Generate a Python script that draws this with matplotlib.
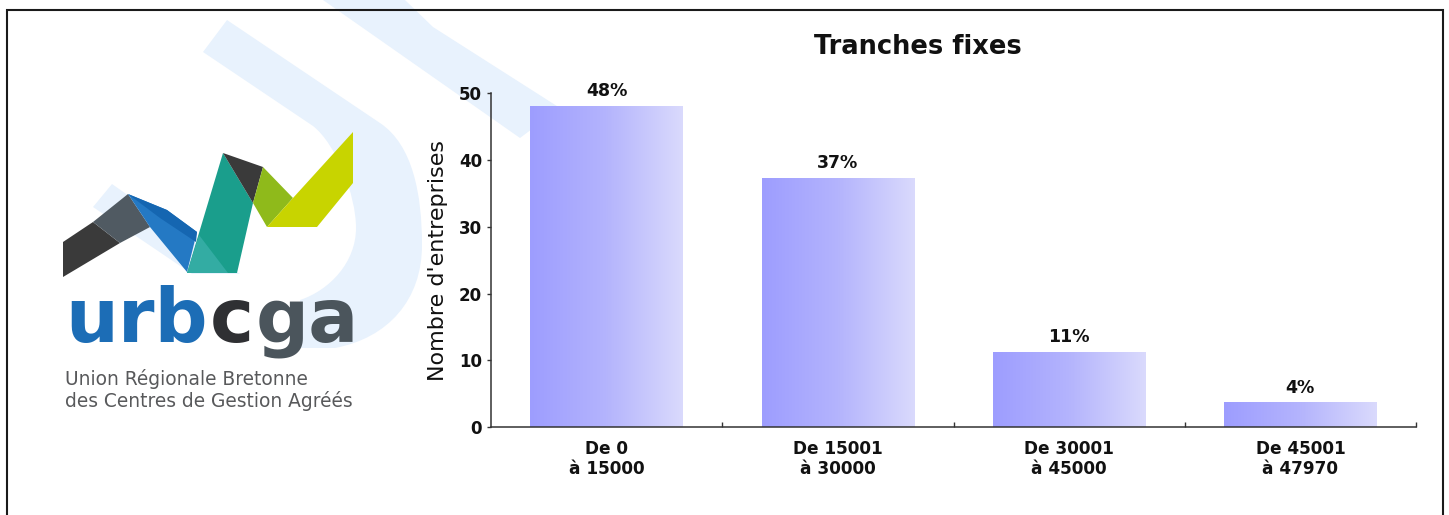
import numpy as np
import matplotlib
matplotlib.use("Agg")
import matplotlib.pyplot as plt
from matplotlib.patches import Polygon, PathPatch
from matplotlib.path import Path
from matplotlib.colors import LinearSegmentedColormap

# ---------------- data ----------------
categories = ["De 0\nà 15000", "De 15001\nà 30000", "De 30001\nà 45000", "De 45001\nà 47970"]
values = [48.0, 37.2, 11.2, 3.6]
pct_labels = ["48%", "37%", "11%", "4%"]
yticks = [0, 10, 20, 30, 40, 50]
title = "Tranches fixes"
ylabel = "Nombre d'entreprises"
logo_word = ["urb", "c", "ga"]
logo_lines = ["Union Régionale Bretonne", "des Centres de Gestion Agréés"]

W, H = 1449, 515
fig = plt.figure(figsize=(W / 100, H / 100), dpi=100)
fig.patch.set_facecolor("white")


def fx(x):
    return x / W


def fy(y):
    return 1 - y / H


# ---------------- background / decoration axes (pixel coords) ----------------
bg = fig.add_axes([0, 0, 1, 1], zorder=0)
bg.set_xlim(0, W)
bg.set_ylim(H, 0)
bg.axis("off")

wm = "#e8f2fd"
# watermark strokes
bandB = Polygon([(323, 0), (405, 0), (433, 27), (560, 108), (520, 138)], closed=True,
                facecolor=wm, edgecolor="none", zorder=1)
bg.add_patch(bandB)
bandC = Polygon([(112, 184), (93, 207), (192, 274), (240, 274)], closed=True,
                facecolor=wm, edgecolor="none", zorder=1)
bg.add_patch(bandC)
verts = [(227, 20), (380, 123),
         (413, 145), (422, 195), (422, 245),
         (422, 300), (388, 338), (335, 348),
         (300, 348), (300, 300),
         (330, 290), (356, 262), (356, 228),
         (356, 195), (336, 144), (313, 126),
         (203, 52), (227, 20)]
codes = [Path.MOVETO, Path.LINETO,
         Path.CURVE4, Path.CURVE4, Path.CURVE4,
         Path.CURVE4, Path.CURVE4, Path.CURVE4,
         Path.LINETO, Path.LINETO,
         Path.CURVE4, Path.CURVE4, Path.CURVE4,
         Path.CURVE4, Path.CURVE4, Path.CURVE4,
         Path.LINETO, Path.CLOSEPOLY]
bg.add_patch(PathPatch(Path(verts, codes), facecolor=wm, edgecolor="none", zorder=1))

# logo shapes
shapes = [
    ([(63, 277), (63, 242), (93, 222), (120, 243)], "#3a3a3a"),
    ([(93, 222), (128, 194), (150, 227), (120, 243)], "#505a62"),
    ([(128, 194), (167, 210), (197, 232), (187, 272), (150, 227)], "#2479c4"),
    ([(128, 194), (167, 210), (197, 232), (196, 242), (160, 218)], "#1566b1"),
    ([(223, 153), (253, 203), (237, 273), (187, 273)], "#1a9e8c"),
    ([(187, 273), (199, 235), (228, 273)], "#33aca3"),
    ([(223, 153), (263, 167), (253, 203)], "#3a3a3a"),
    ([(263, 167), (293, 198), (267, 227), (253, 203)], "#8fba1b"),
    ([(353, 132), (353, 183), (317, 227), (267, 227), (293, 198)], "#c8d400"),
]
for pts, col in shapes:
    bg.add_patch(Polygon(pts, closed=True, facecolor=col, edgecolor="none", zorder=3))

# border
bg.plot([7, 7, 1443, 1443], [H + 5, 10, 10, H + 5], color="#1a1a1a", lw=1.5,
        zorder=5, solid_joinstyle="miter", clip_on=False)

r = fig.canvas.get_renderer()
inv = bg.transData.inverted()

# logo word
probe = bg.text(65, 342, "".join(logo_word), fontsize=60, fontweight="bold",
                family="DejaVu Sans")
wpx = probe.get_window_extent(r).width
probe.remove()
fs_logo = 60 * 290 / wpx
cols = ["#1c6db6", "#2f3033", "#4b555c"]
xcur = 65
for part, col in zip(logo_word, cols):
    t = bg.text(xcur, 342, part, fontsize=fs_logo, fontweight="bold", family="DejaVu Sans",
                color=col, ha="left", va="baseline", zorder=4)
    e = t.get_window_extent(r)
    xcur = inv.transform((e.x1, 0))[0] + 2

# logo subtitle
probe = bg.text(65, 407, logo_lines[1], fontsize=14, family="DejaVu Sans")
wpx = probe.get_window_extent(r).width
probe.remove()
fs_sub = 14 * 290 / wpx
for line, yb in zip(logo_lines, [385, 407]):
    bg.text(65, yb, line, fontsize=fs_sub, family="DejaVu Sans", color="#58595b",
            ha="left", va="baseline", zorder=4)

# ---------------- chart ----------------
ax = fig.add_axes([fx(491), fy(427), (1416 - 491) / W, (427 - 93.3) / H], zorder=2)
ax.set_facecolor("none")
x = np.arange(len(categories))
bars = ax.bar(x, values, width=0.66, color="none", edgecolor="none")
cmap = LinearSegmentedColormap.from_list("g", ["#9d9dff", "#b4b4fd", "#dadafc"])
grad = np.linspace(0, 1, 256).reshape(1, -1)
for b, lbl in zip(bars, pct_labels):
    x0, w, h = b.get_x(), b.get_width(), b.get_height()
    ax.imshow(grad, extent=[x0, x0 + w, 0, h], cmap=cmap, aspect="auto",
              interpolation="bilinear", zorder=2)
    ax.annotate(lbl, (x0 + w / 2, h), xytext=(0, 4.5), textcoords="offset points",
                ha="center", va="bottom", fontsize=12.5, fontweight="bold",
                family="DejaVu Sans", color="#111111")

ax.set_xlim(-0.5, len(categories) - 0.5)
ax.set_ylim(0, 50)
ax.set_yticks(yticks)
ax.set_xticks(x)
ax.set_xticklabels(categories, fontsize=12.2, fontweight="bold", family="DejaVu Sans",
                   linespacing=1.15, color="#111111")
ax.set_xticks(list(x + 0.5), minor=True)
ax.tick_params(axis="x", which="major", length=0, pad=9)
ax.tick_params(axis="x", which="minor", direction="in", length=3.5, width=1, color="#333333")
ax.tick_params(axis="y", direction="out", length=3, width=1, color="#333333", pad=3.5,
               labelsize=12)
for lab in ax.get_yticklabels():
    lab.set_fontweight("bold")
    lab.set_family("DejaVu Sans")
    lab.set_color("#111111")
for s in ["top", "right"]:
    ax.spines[s].set_visible(False)
for s in ["left", "bottom"]:
    ax.spines[s].set_color("#333333")
    ax.spines[s].set_linewidth(1.1)
ax.set_ylabel(ylabel, fontsize=16, family="DejaVu Sans", color="#111111")
ax.yaxis.set_label_coords((448 - 491) / 925, 0.5)

fig.text(fx(918), fy(54), title, ha="center", va="baseline", fontsize=18.5,
         fontweight="bold", family="DejaVu Sans", color="#111111")

fig.savefig("out.png", dpi=100, facecolor="white")
